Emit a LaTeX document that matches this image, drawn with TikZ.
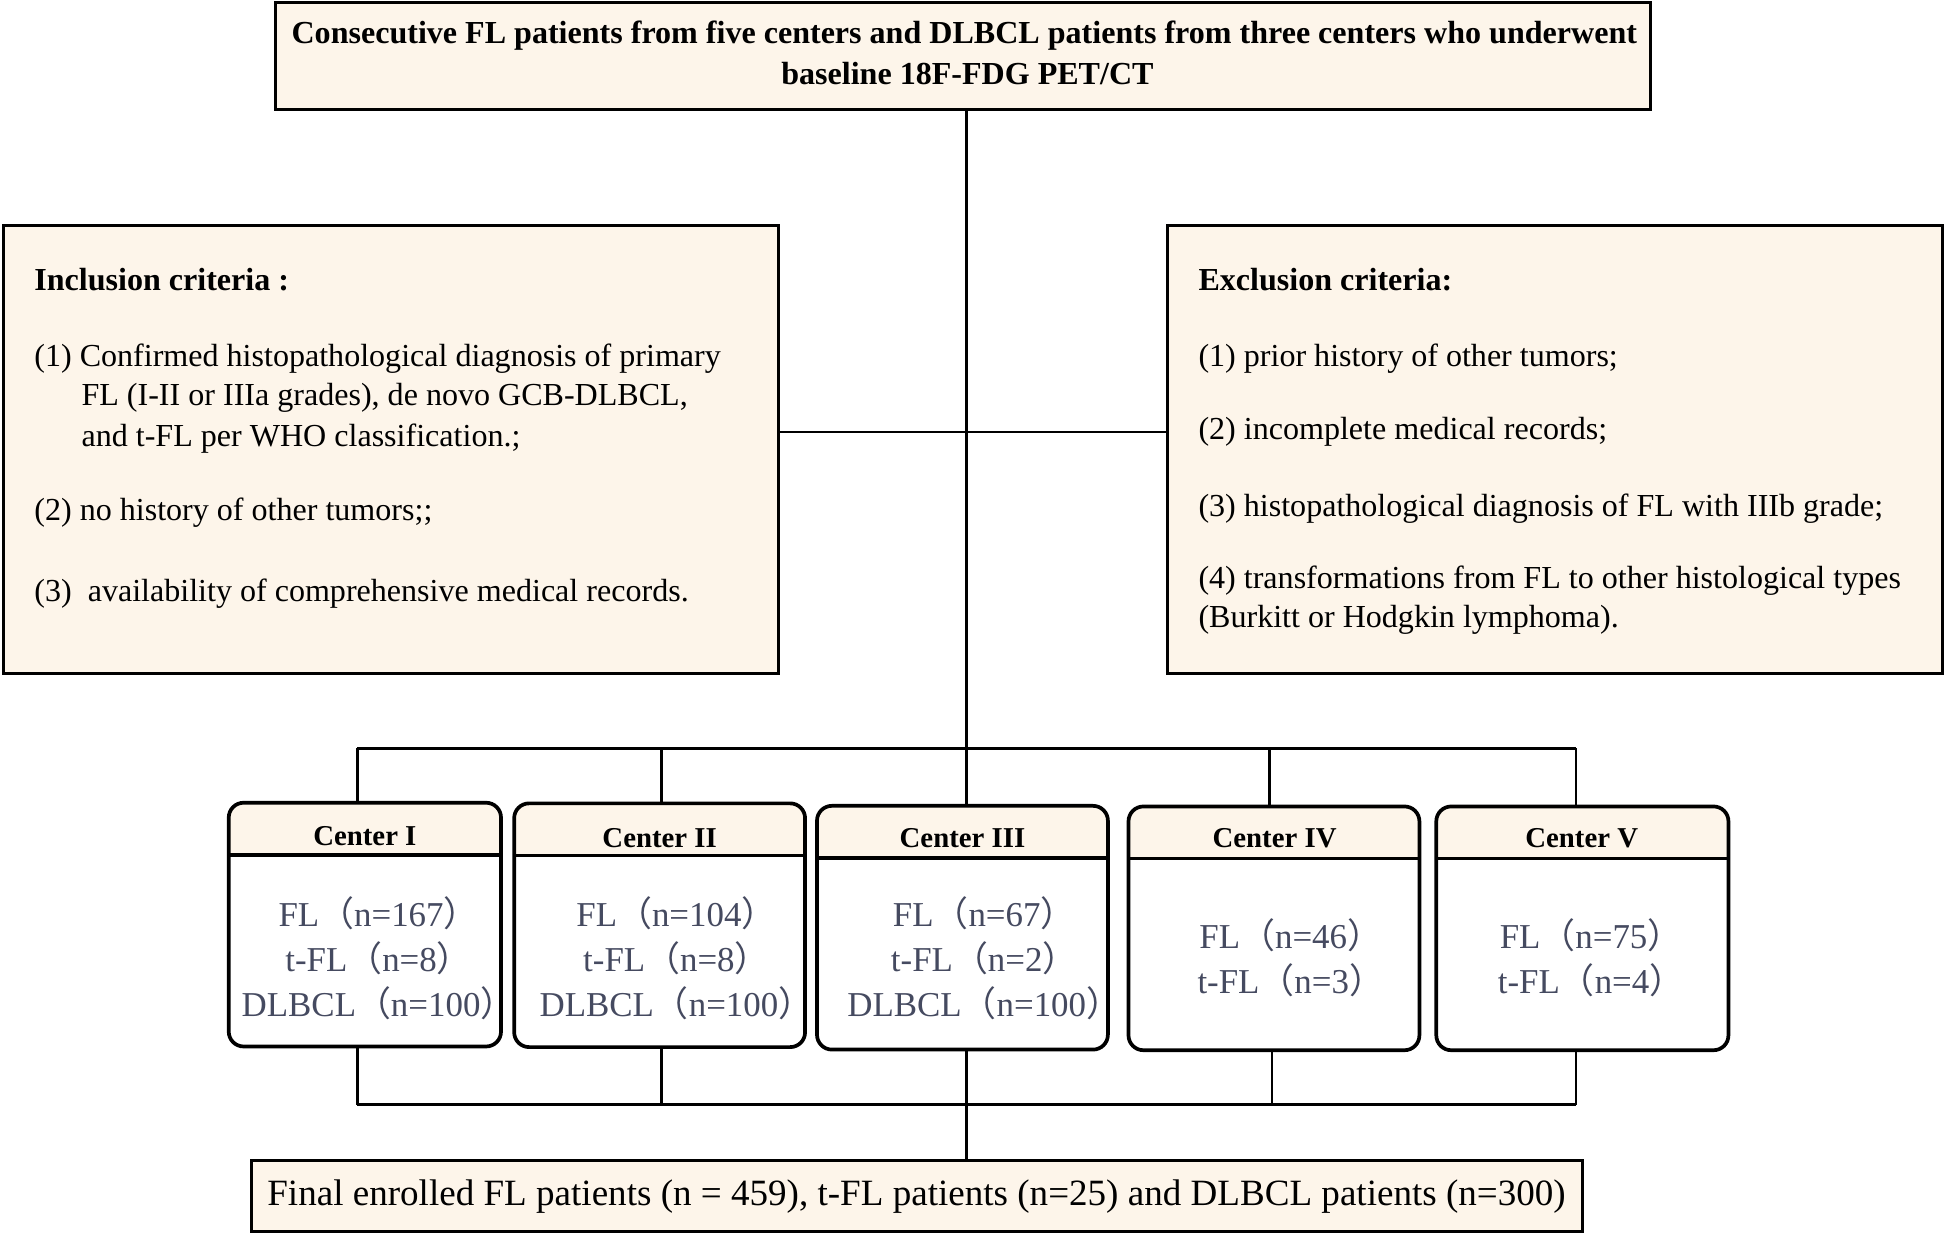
\documentclass[tikz,border=0pt]{standalone}
\usepackage{fontspec}
\setmainfont{Liberation Serif}
\newfontfamily\cjkfw{Noto Sans CJK SC}
\newcommand\fwl{{\cjkfw （}}
\newcommand\fwr{{\cjkfw ）}}
\definecolor{beige}{RGB}{253,245,234}
\definecolor{valc}{RGB}{69,74,96}
\tikzset{
 beigebox/.style={draw, line width=0.7pt, fill=beige, inner sep=0pt},
 cbox/.style={fill=white, inner sep=0pt, minimum height=19.5mm},
 cborder/.style={line width=0.85pt, rounded corners=1.2mm},
 conn/.style={line width=0.6pt},
 crit/.style={anchor=base west, inner sep=0pt, font=\fontsize{7.35}{9}\selectfont},
 crittitle/.style={anchor=base west, inner sep=0pt, font=\bfseries\fontsize{7.35}{9}\selectfont},
 hdr/.style={anchor=base, inner sep=0pt, font=\bfseries\fontsize{6.6}{8}\selectfont},
 vals/.style={align=center, inner sep=0pt, text=valc, font=\fontsize{8}{10.35}\selectfont},
}
\begin{document}
\begin{tikzpicture}[x=0.1mm,y=-0.1mm]
\useasboundingbox (0,0) rectangle (1568,994);
% boxes
\node[beigebox, minimum width=110.8mm, minimum height=8.6mm] (top) at (776,45) {};
\node[beigebox, minimum width=62.4mm, minimum height=36.1mm] (incl) at (315,362.5) {};
\node[beigebox, minimum width=62.4mm, minimum height=36.1mm] (excl) at (1253,362.5) {};
\node[cbox, minimum width=21.8mm] (c1) at (294,745) {};
\node[cbox, minimum width=23.3mm] (c2) at (531.5,745.5) {};
\node[cbox, minimum width=23.3mm] (c3) at (775.5,747.5) {};
\node[cbox, minimum width=23.3mm] (c4) at (1026.5,748) {};
\node[cbox, minimum width=23.4mm] (c5) at (1275,748) {};
\node[beigebox, minimum width=107.2mm, minimum height=5.7mm] (bot) at (739,963.5) {};
\foreach \n in {c1,c2,c3,c4,c5}{
  \begin{scope}
    \clip[rounded corners=1.2mm] (\n.north west) rectangle (\n.south east);
    \fill[beige] (\n.north west) rectangle ([yshift=-4.2mm]\n.north east);
  \end{scope}
  \draw[line width=0.85pt] ([yshift=-4.2mm]\n.north west) -- ([yshift=-4.2mm]\n.north east);
  \draw[cborder] (\n.north west) rectangle (\n.south east);
}
% coordinates
\coordinate (j1) at (779,348);
\coordinate (b1) at (288,603);
\coordinate (b2) at (533,603);
\coordinate (b3) at (779,603);
\coordinate (b4) at (1023,603);
\coordinate (b5) at (1270,603);
\coordinate (d1) at (288,890);
\coordinate (d2) at (533,890);
\coordinate (d3) at (779,890);
\coordinate (d4) at (1025,890);
\coordinate (d5) at (1270,890);
% connectors
\draw[conn] (top.south -| b3) -- (c3.north -| b3);
\draw[conn] (incl.east |- j1) -- (excl.west |- j1);
\draw[conn] (b1) -- (b5);
\draw[conn] (b1) -- (c1.north -| b1);
\draw[conn] (b2) -- (c2.north -| b2);
\draw[conn] (b4) -- (c4.north -| b4);
\draw[conn] (b5) -- (c5.north -| b5);
\draw[conn] (c1.south -| d1) -- (d1);
\draw[conn] (c2.south -| d2) -- (d2);
\draw[conn] (c3.south -| d3) -- (d3);
\draw[conn] (c4.south -| d4) -- (d4);
\draw[conn] (c5.south -| d5) -- (d5);
\draw[conn] (d1) -- (d5);
\draw[conn] (d3) -- (bot.north -| d3);
% top text
\node[anchor=base, inner sep=0pt, font=\bfseries\fontsize{7.35}{9}\selectfont] (top1) at (777,35) {Consecutive FL patients from five centers and DLBCL patients from three centers who underwent};
\node[anchor=base, inner sep=0pt, font=\bfseries\fontsize{7.35}{9}\selectfont] (top2) at (779.5,68) {baseline 18F-FDG PET/CT};
% inclusion
\node[crittitle] (inT) at (27,234) {Inclusion criteria :};
\node[crit] (in1a) at (27,295) {(1) Confirmed histopathological diagnosis of primary};
\node[crit] (in1b) at (65,327) {FL (I-II or IIIa grades), de novo GCB-DLBCL,};
\node[crit] (in1c) at (65,360) {and t-FL per WHO classification.;};
\node[crit] (in2) at (27,419) {(2) no history of other tumors;;};
\node[crit] (in3) at (27,485) {(3)\ \ availability of comprehensive medical records.};
% exclusion
\node[crittitle] (exT) at (965,234) {Exclusion criteria:};
\node[crit] (ex1) at (965,295) {(1) prior history of other tumors;};
\node[crit] (ex2) at (965,354) {(2) incomplete medical records;};
\node[crit] (ex3) at (965,416) {(3) histopathological diagnosis of FL with IIIb grade;};
\node[crit] (ex4a) at (965,474) {(4) transformations from FL to other histological types};
\node[crit] (ex4b) at (965,506) {(Burkitt or Hodgkin lymphoma).};
% centers
\node[hdr] (c1h) at (294,681) {Center I};
\node[hdr] (c2h) at (531.5,683) {Center II};
\node[hdr] (c3h) at (775.5,683) {Center III};
\node[hdr] (c4h) at (1027,683) {Center IV};
\node[hdr] (c5h) at (1274.5,683) {Center V};
\node[vals] (c1v) at (305,772) {FL\fwl n=167\fwr\\t-FL\fwl n=8\fwr\\DLBCL\fwl n=100\fwr};
\node[vals] (c2v) at (545,772) {FL\fwl n=104\fwr\\t-FL\fwl n=8\fwr\\DLBCL\fwl n=100\fwr};
\node[vals] (c3v) at (793,772) {FL\fwl n=67\fwr\\t-FL\fwl n=2\fwr\\DLBCL\fwl n=100\fwr};
\node[vals] (c4v) at (1040,772) {FL\fwl n=46\fwr\\t-FL\fwl n=3\fwr};
\node[vals] (c5v) at (1282,772) {FL\fwl n=75\fwr\\t-FL\fwl n=4\fwr};
% bottom text
\node[anchor=base, inner sep=0pt, font=\fontsize{8.5}{10}\selectfont] (bott) at (738.5,971) {Final enrolled FL patients (n = 459), t-FL patients (n=25) and DLBCL patients (n=300)};
\end{tikzpicture}
\end{document}
